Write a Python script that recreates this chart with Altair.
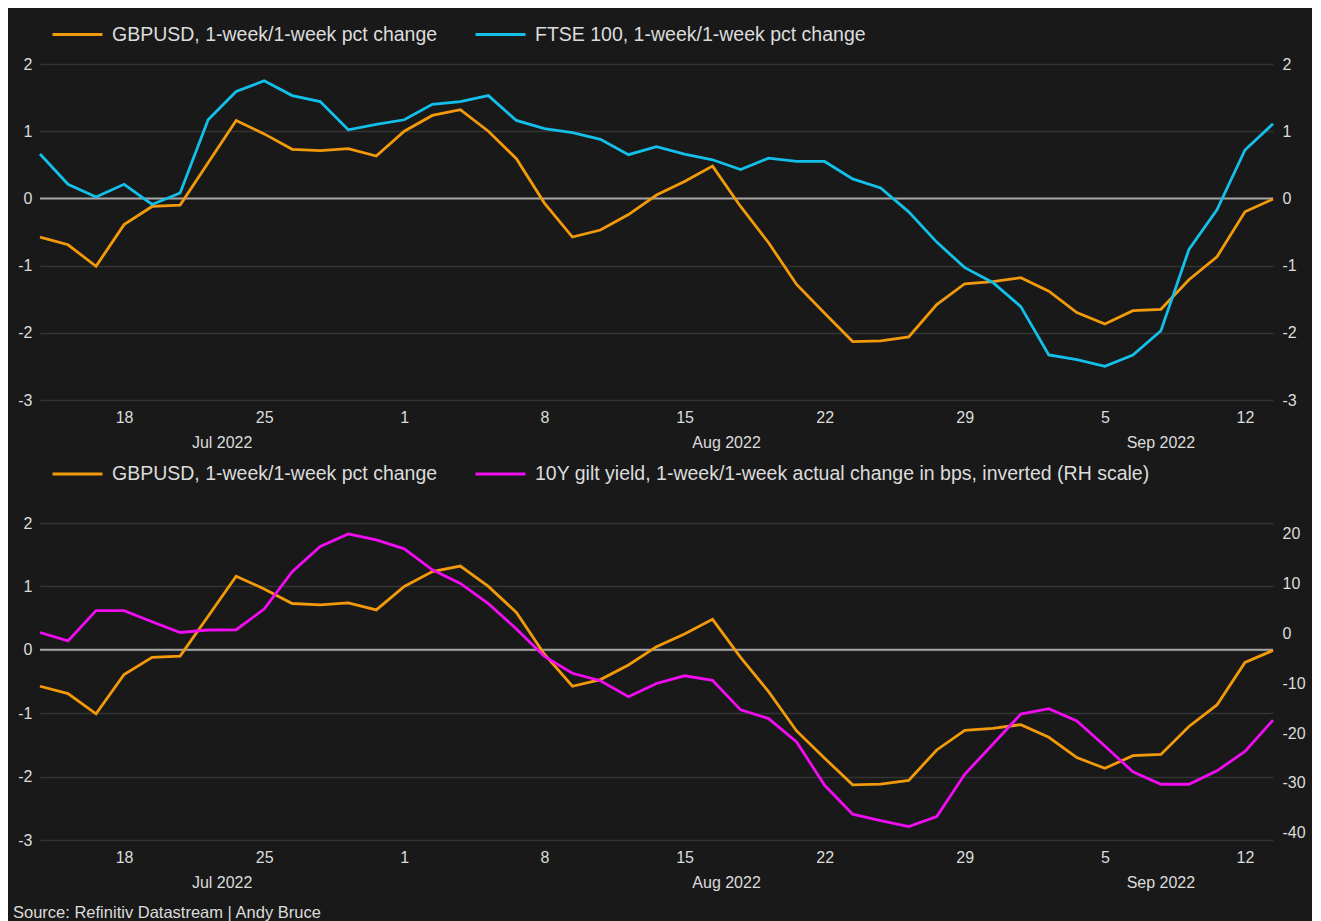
import altair as alt
import pandas as pd

# ---------------- data ----------------
day_labels = ["13", "14", "15", "18", "19", "20", "21", "22", "25", "26", "27", "28", "29",
              "1", "2", "3", "4", "5", "8", "9", "10", "11", "12", "15", "16", "17", "18", "19",
              "22", "23", "24", "25", "26", "29", "30", "31", "1", "2", "5", "6", "7", "8", "9",
              "12", "13"]
tick_idx = [3, 8, 13, 18, 23, 28, 33, 38, 43]
month_labels = ["Jul 2022", "Aug 2022", "Sep 2022"]
month_pos = [6.5, 24.5, 40.0]

gbpusd = [-0.575, -0.69, -1.01, -0.39, -0.12, -0.10, 0.53, 1.16, 0.96, 0.73, 0.71, 0.74, 0.63,
          1.00, 1.235, 1.32, 1.00, 0.59, -0.07, -0.575, -0.47, -0.24, 0.05, 0.25, 0.48, -0.12,
          -0.66, -1.28, -1.71, -2.13, -2.12, -2.06, -1.58, -1.27, -1.24, -1.18, -1.38, -1.70,
          -1.87, -1.67, -1.65, -1.21, -0.87, -0.20, -0.01]
ftse = [0.66, 0.21, 0.02, 0.21, -0.09, 0.08, 1.17, 1.59, 1.75, 1.53, 1.44, 1.02, 1.10, 1.17,
        1.40, 1.44, 1.53, 1.16, 1.04, 0.98, 0.88, 0.65, 0.77, 0.66, 0.575, 0.43, 0.60, 0.55,
        0.55, 0.29, 0.155, -0.20, -0.65, -1.03, -1.25, -1.61, -2.33, -2.40, -2.50, -2.33,
        -1.97, -0.76, -0.17, 0.72, 1.11]
gilt_inv = [0.2, -1.5, 4.6, 4.6, 2.35, 0.2, 0.7, 0.75, 4.9, 12.4, 17.5, 20.0, 18.8, 17.0, 12.8,
            10.05, 6.0, 0.9, -4.6, -8.0, -9.5, -12.7, -10.05, -8.5, -9.4, -15.35, -17.1, -21.8,
            -30.5, -36.3, -37.6, -38.8, -36.8, -28.3, -22.25, -16.2, -15.1, -17.6, -22.6, -27.8,
            -30.3, -30.3, -27.6, -23.7, -17.4]

S_GBP = "GBPUSD, 1-week/1-week pct change"
S_FTSE = "FTSE 100, 1-week/1-week pct change"
S_GILT = "10Y gilt yield, 1-week/1-week actual change in bps, inverted (RH scale)"
source_text = "Source: Refinitiv Datastream | Andy Bruce"

left_ticks = [-3, -2, -1, 0, 1, 2]
gilt_ticks = [-40, -30, -20, -10, 0, 10, 20]

# ---------------- style ----------------
FONT = "Liberation Sans"
BG = "#191919"
GRID = "#343434"
ZERO = "#a6a6a6"
TXT = "#dcdcdc"
ORANGE = "#f39a0b"
CYAN = "#13c0ea"
MAGENTA = "#f20cf2"

W = 1233
H_TOP = 336
H_BOT = 317

idx = list(range(len(gbpusd)))
df_gbp = pd.DataFrame({"i": idx, "v": gbpusd, "series": S_GBP})
df_ftse = pd.DataFrame({"i": idx, "v": ftse, "series": S_FTSE})
df_gilt = pd.DataFrame({"i": idx, "v": gilt_inv, "series": S_GILT})
df_zero = pd.DataFrame({"v": [0]})
df_month = pd.DataFrame({"i": month_pos, "m": month_labels})
df_src = pd.DataFrame({"t": [source_text]})

label_expr = "[" + ",".join(f"'{d}'" for d in day_labels) + "][datum.value]"

x_enc = alt.X("i:Q", title=None,
              scale=alt.Scale(domain=[0, len(idx) - 1], nice=False, zero=False),
              axis=alt.Axis(values=tick_idx, labelExpr=label_expr, grid=False, ticks=False,
                            domain=False, labelPadding=9))


def left_y():
    return alt.Y("v:Q", title=None,
                 scale=alt.Scale(domain=[-3, 2], nice=False, zero=False),
                 axis=alt.Axis(values=left_ticks, grid=True, gridColor=GRID, gridWidth=1.5,
                               ticks=False, domain=False, labelPadding=8,
                               labelExpr="'' + datum.value"))


def right_y(domain, ticks):
    return alt.Y("v:Q", title=None,
                 scale=alt.Scale(domain=domain, nice=False, zero=False),
                 axis=alt.Axis(orient="right", values=ticks, grid=False, ticks=False,
                               domain=False, labelPadding=9, labelExpr="'' + datum.value"))


def legend(ly):
    return alt.Legend(orient="none", legendX=11, legendY=ly, direction="horizontal",
                      title=None, symbolType="stroke", symbolSize=2500, symbolStrokeWidth=3,
                      labelFontSize=19.5, labelColor=TXT, labelFont=FONT, labelLimit=1000,
                      labelOffset=8, columnPadding=31)


def panel(h, right_df, right_name, right_color, r_domain, r_ticks, ly, with_source):
    color = alt.Color("series:N",
                      scale=alt.Scale(domain=[S_GBP, right_name], range=[ORANGE, right_color]),
                      legend=legend(ly))
    zero = alt.Chart(df_zero).mark_rule(color=ZERO, strokeWidth=2).encode(y=left_y())
    gbp = alt.Chart(df_gbp).mark_line(strokeWidth=2.8).encode(x=x_enc, y=left_y(), color=color)
    months = alt.Chart(df_month).mark_text(
        font=FONT, fontSize=16, color=TXT, baseline="middle", align="center"
    ).encode(x=x_enc, y=alt.value(h + 43), text="m:N")
    layers = [zero, gbp, months]
    if with_source:
        src = alt.Chart(df_src).mark_text(
            font=FONT, fontSize=16.5, color=TXT, baseline="middle", align="left"
        ).encode(x=alt.value(-27), y=alt.value(h + 73), text="t:N")
        layers.append(src)
    left = alt.layer(*layers)
    right = alt.Chart(right_df).mark_line(strokeWidth=2.8).encode(
        x=x_enc, y=right_y(r_domain, r_ticks), color=color)
    return alt.layer(left, right).resolve_scale(y="independent").properties(width=W, height=h)


top = panel(H_TOP, df_ftse, S_FTSE, CYAN, [-3, 2], left_ticks, -56, False)
bottom = panel(H_BOT, df_gilt, S_GILT, MAGENTA, [-41.5, 22.2], gilt_ticks, -75.5, True)

chart = (
    alt.vconcat(top, bottom, spacing=123, bounds="flush")
    .resolve_scale(color="independent")
    .properties(background=BG, padding={"left": 5, "top": 0, "right": 6, "bottom": 0})
    .configure_view(stroke=None, fill=BG)
    .configure_axis(labelFont=FONT, labelFontSize=16, labelColor=TXT)
)

chart.save("out.html", embed_options={"renderer": "svg", "actions": False})
